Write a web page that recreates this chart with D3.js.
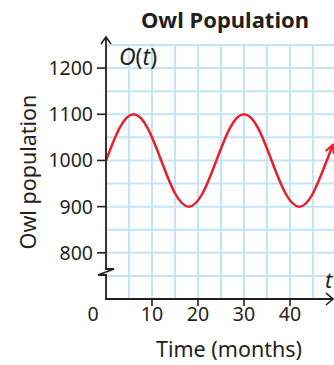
<!DOCTYPE html>
<html><head><meta charset="utf-8">
<script src="https://cdn.jsdelivr.net/npm/d3@7"></script>
<style>html,body{margin:0;padding:0;background:#fff;}svg{display:block;}</style>
</head><body>
<script>
const months = [0,3,6,9,12,15,18,21,24,27,30,33,36,39,42,45,48,49.3];
const owls = [1000,1071,1100,1071,1000,929,900,929,1000,1071,1100,1071,1000,929,900,929,1000,1033];
const xTicks = [10,20,30,40];
const yTicks = [800,900,1000,1100,1200];
const xGrid = [5,10,15,20,25,30,35,40,45];
const yGrid = [750,800,850,900,950,1000,1050,1100,1150,1200,1250];

const W=334,H=365;
const svg=d3.select("body").append("svg").attr("width",W).attr("height",H);
const x=d3.scaleLinear().domain([0,50]).range([106,336]);
const y=d3.scaleLinear().domain([700,1250]).range([299,45]);
const font="'Noto Sans', 'Open Sans', sans-serif";
const ink="#231f20";
const grid="#c3e5f6";

const defs=svg.append("defs");
defs.append("marker").attr("id","ah").attr("viewBox","0 0 10 10").attr("refX",8).attr("refY",5)
  .attr("markerWidth",4.5).attr("markerHeight",4.5).attr("orient","auto").attr("markerUnits","strokeWidth")
  .append("path").attr("d","M1,1 L8,5 L1,9").attr("fill","none").attr("stroke","#e8202a").attr("stroke-width",2);

// grid
const g=svg.append("g");
g.selectAll("line.v").data(xGrid).join("line").attr("x1",d=>x(d)).attr("x2",d=>x(d))
  .attr("y1",y(1250)).attr("y2",y(700)).attr("stroke",grid).attr("stroke-width",2);
g.selectAll("line.h").data(yGrid).join("line").attr("x1",x(0)).attr("x2",W)
  .attr("y1",d=>y(d)).attr("y2",d=>y(d)).attr("stroke",grid).attr("stroke-width",2);

// curve
const line=d3.line().x((d,i)=>x(months[i])).y(d=>y(d)).curve(d3.curveNatural);
svg.append("path").attr("d",line(owls)).attr("fill","none").attr("stroke","#e8202a")
  .attr("stroke-width",2.5).attr("marker-end","url(#ah)");

// axes
const x0=x(0), yb=y(700);
svg.append("path").attr("d",`M${x0},37 V269 H114 L98,275 H${x0} V${yb} H333`)
  .attr("fill","none").attr("stroke",ink).attr("stroke-width",1.8);
svg.append("path").attr("d",`M${x0-5},44 L${x0},37 L${x0+5},44`).attr("fill","none").attr("stroke",ink).attr("stroke-width",1.6);
svg.append("path").attr("d",`M326,${yb-6} L333,${yb} L326,${yb+6}`).attr("fill","none").attr("stroke",ink).attr("stroke-width",1.6);

// y ticks
svg.selectAll("line.yt").data(yTicks).join("line").attr("x1",x0-9).attr("x2",x0)
  .attr("y1",d=>y(d)).attr("y2",d=>y(d)).attr("stroke",ink).attr("stroke-width",1.6);
svg.selectAll("text.yl").data(yTicks).join("text").attr("x",x0-13).attr("y",d=>y(d)+7)
  .attr("text-anchor","end").attr("font-family",font).attr("font-size",19.5).attr("fill",ink).text(d=>d);
// x ticks
svg.selectAll("line.xt").data(xTicks).join("line").attr("x1",d=>x(d)).attr("x2",d=>x(d))
  .attr("y1",yb).attr("y2",yb+7).attr("stroke",ink).attr("stroke-width",1.6);
svg.selectAll("text.xl").data(xTicks).join("text").attr("x",d=>x(d)).attr("y",yb+22)
  .attr("text-anchor","middle").attr("font-family",font).attr("font-size",19.5).attr("fill",ink).text(d=>d);
svg.append("text").attr("x",93).attr("y",yb+22).attr("text-anchor","middle").attr("font-family",font)
  .attr("font-size",19.5).attr("fill",ink).text("0");

// labels
svg.append("text").attr("x",225).attr("y",28).attr("text-anchor","middle").attr("font-family",font)
  .attr("font-weight","bold").attr("font-size",22).attr("fill",ink).text("Owl Population");
svg.append("text").attr("x",229).attr("y",357).attr("text-anchor","middle").attr("font-family",font)
  .attr("font-size",21.5).attr("fill",ink).text("Time (months)");
svg.append("text").attr("transform","translate(36,172) rotate(-90)").attr("text-anchor","middle")
  .attr("font-family",font).attr("font-size",21.5).attr("fill",ink).text("Owl population");
svg.append("text").attr("x",119).attr("y",65).attr("font-family",font).attr("font-size",23).attr("fill",ink)
  .html("<tspan font-style='italic'>O</tspan>(<tspan font-style='italic'>t</tspan>)");
svg.append("text").attr("x",325).attr("y",288).attr("font-family",font).attr("font-size",22).attr("font-style","italic")
  .attr("fill",ink).text("t");
</script>
</body></html>
